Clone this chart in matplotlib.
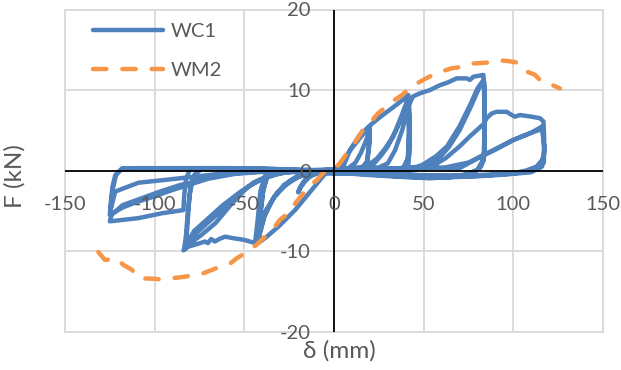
import matplotlib
matplotlib.use('Agg')
import matplotlib.pyplot as plt

plt.rcParams['font.family'] = ['Lato', 'DejaVu Sans']

# ---------------- data ----------------
x_ticks = [-150, -100, -50, 0, 50, 100, 150]
y_ticks = [-20, -10, 0, 10, 20]
x_tick_labels = ['-150', '-100', '-50', '0', '50', '100', '150']
y_tick_labels = ['-20', '-10', '0', '10', '20']

# WC1 hysteresis, by stage (displacement mm, force kN)
wc1_s1_x = [0, 5, 10, 15, 20, 19.6, 18.5, 15, 8, 0, -8, -13, -16, -18.5, -20, -18, -14, -8, 0, 8, 12, 15, 18, 20,
            19.7, 18.5, 14, 5, -5, -12, -15.5, -18, -19.5, -17, -12, -5, 0]
wc1_s1_f = [0, 1.3, 2.8, 4.2, 5.5, 3.5, 1.2, 0.1, -0.2, -0.2, -0.2, -0.6, -1.2, -2.0, -2.7, -1.8, -0.8, -0.2, 0, 0.3, 1.0, 2.2, 3.8, 5.2,
            3.2, 1.0, 0, -0.2, -0.2, -0.4, -1.0, -1.8, -2.4, -1.4, -0.5, 0, 0]

wc1_s2_x = [5, 9, 14, 20, 26, 30.8, 35, 39, 41.4, 42.2, 42.3, 41.5, 38, 30, 15, 0, -5, -12.4, -21.7, -31.2, -38, -42.3,
            -41, -38, -33, -27, -20, -12, 0, 15, 22,
            26, 30, 34, 38, 41.2, 42, 41.8, 39.5, 35, 20, 0, -20, -33, -37.5, -39.5, -41, -42.2,
            -39, -34, -28, -20, -10, 5, 18, 24, 28, 33, 37.5, 41, 41.7, 41.2, 38, 30, 10, -15, -32, -37, -39.5, -41, -42,
            -38, -32, -24, -15, -5, 10, 25, 30]
wc1_s2_f = [0.4, 2.6, 4.3, 5.6, 6.7, 7.5, 8.2, 8.9, 9.4, 7.0, 3.0, 0.8, 0, -0.4, -0.4, -0.3, -0.4, -2.4, -4.9, -7.0, -8.3, -9.0,
            -7.0, -5.0, -3.2, -1.8, -0.8, -0.2, 0, 0.3, 0.8,
            1.8, 3.0, 4.8, 7.0, 8.9, 6.0, 2.0, 0.4, -0.2, -0.3, -0.3, 0.1, 0.1, -0.8, -2.5, -5.0, -8.6,
            -5.8, -3.5, -1.8, -0.6, 0, 0.2, 0.5, 1.5, 2.6, 4.2, 6.4, 8.6, 5.0, 1.5, 0.1, -0.3, -0.3, 0.1, 0.1, -0.6, -2.5, -5.5, -8.2,
            -5.0, -2.8, -1.2, -0.3, 0, 0.2, 0.4, 0.9]

wc1_s3_x = [34, 38, 41.5, 44, 48, 53.5, 59, 63, 68.4, 74, 75.8, 77.7, 83.3, 84, 84, 83.5, 81, 75, 65, 50, 20, 0, -30, -38,
            -41, -42.5, -44, -50, -56, -60.8, -64, -66.4, -68.5, -70.3, -71.9, -76, -81.4, -84,
            -80, -74, -66, -57, -48, -38, -25, 0, 30, 45,
            50, 57, 63, 70, 76, 80, 83.5, 84, 83.8, 82, 77, 65, 40, 0, -60, -74, -78, -80, -81.5, -82.5, -83.5,
            -79, -72, -64, -55, -45, -35, -20, 0, 40, 52,
            58, 64, 70, 76, 81, 83.8, 84, 83.5, 80, 72, 50, 0, -60, -75, -78.5, -80.5, -81.5, -82.5,
            -78, -70, -62, -52, -42, -30, -10, 30, 55]
wc1_s3_f = [2.5, 5.0, 8.0, 9.2, 9.6, 10.0, 10.6, 10.9, 11.45, 11.45, 11.25, 11.66, 11.87, 9.0, 4.0, 1.3, 0.2, -0.5, -0.8, -0.6, -0.3, -0.2, 0.1, -0.3,
            -2.5, -6.0, -9.0, -8.6, -8.4, -8.2, -8.5, -8.8, -8.5, -9.0, -8.8, -9.1, -9.45, -9.9,
            -9.0, -8.0, -6.5, -4.1, -2.0, -0.8, -0.1, 0, 0.1, 0.3,
            0.8, 1.8, 3.0, 5.5, 8.2, 10.2, 11.3, 7.0, 2.0, 0.5, -0.4, -0.7, -0.5, -0.3, 0.2, 0.2, -0.6, -2.0, -5.0, -8.0, -9.6,
            -8.2, -6.8, -5.2, -3.3, -1.5, -0.5, 0, 0.1, 0.2, 0.5,
            1.4, 2.9, 5.0, 7.8, 10.3, 11.0, 6.0, 1.5, 0.1, -0.6, -0.6, -0.3, 0.3, 0.3, -0.8, -3.0, -6.0, -9.2,
            -7.5, -5.9, -4.3, -2.6, -1.2, -0.3, 0, 0.2, 0.6]

wc1_s4_x = [62, 70, 76, 81, 83.5, 85.1, 88, 90.7, 96.3, 99.1, 100.9, 103.7, 110, 114.9, 116.8, 117.2, 117, 116, 113, 107,
            100, 81.4, 68.4, 53.5, 35, 16, 0, -40, -80, -82.5, -83.5, -84, -96, -109, -125,
            -124, -118, -110, -97, -86, -78, -70, -60, -40, 0, 40, 55,
            68.4, 81.4, 99.9, 110, 115.8, 117.3, 117, 114, 108, 100, 85, 68, 53, 35, 15, 0, -60, -110, -119, -122, -123.5, -124.5, -125,
            -118, -110, -100, -90, -80, -70, -55, -30, 20, 60,
            75, 90, 100, 110, 116.5, 117.3, 116, 110, 95, 80, 60, 40, 0, -80, -118, -121.5, -123.5, -124.5,
            -122, -109, -96, -77.5, -60, -30, 0]
wc1_s4_f = [1.5, 3.0, 4.3, 5.3, 5.8, 6.5, 7.1, 7.3, 7.3, 6.9, 6.7, 6.9, 6.7, 6.5, 6.1, 4.0, 2.0, 1.3, 0.5, 0.0,
            -0.33, -0.55, -0.75, -0.95, -0.75, -0.5, -0.2, 0.3, 0.3, -1.0, -3.0, -4.9, -5.3, -5.9, -6.3,
            -5.5, -4.3, -3.65, -2.6, -1.8, -1.4, -0.8, -0.4, -0.1, 0, 0.3, 0.5,
            0.1, 1.7, 3.8, 4.7, 5.45, 3.0, 1.0, 0.2, -0.1, -0.35, -0.6, -0.8, -0.9, -0.7, -0.4, -0.1, 0.3, 0.3, 0.1, -0.6, -2.0, -4.0, -5.5,
            -4.6, -3.9, -3.2, -2.4, -1.7, -1.0, -0.4, 0, 0.2, 0.3,
            1.0, 2.6, 3.8, 4.7, 5.2, 2.5, 0.5, -0.2, -0.5, -0.7, -0.8, -0.6, -0.1, 0.3, 0.3, -0.5, -2.4, -4.8,
            -2.6, -1.5, -1.2, -0.75, -0.3, 0, 0]

# WM2 envelope
wm2_x = [-131.4, -127.7, -121.2, -117.5, -112.8, -108.2, -102.6, -97, -91.5, -84, -78.5, -72.9, -65.4, -58.9, -54.3,
         -48.7, -43.1, -39.4, -33.8, -30.1, -24.5, -21.7, -17.1, -14.3, -9.7, -6, -3, 0, 3.3, 7, 10.8, 16, 20, 24.5,
         28.4, 34, 38, 42.4, 46.8, 53.5, 60, 65.6, 72, 78, 85, 91, 97, 102.6, 107.5, 112, 116, 122, 126]
wm2_f = [-10.1, -11.1, -10.9, -11.7, -12.3, -13.4, -13.4, -13.5, -13.4, -13.2, -13.0, -12.75, -12.1, -11.7, -10.9,
         -10.1, -9.2, -8.4, -7.2, -6.1, -5.1, -4.1, -2.8, -2.0, -1.2, -0.3, 0.0, 0.2, 0.9, 2.1, 3.2, 5.0, 5.9, 7.1,
         7.8, 8.8, 9.4, 10.3, 10.9, 11.7, 12.3, 12.7, 12.9, 13.3, 13.4, 13.7, 13.6, 13.4, 12.3, 11.9, 11.0, 10.6, 10.2]

wc1_x = wc1_s1_x + wc1_s2_x + wc1_s3_x + wc1_s4_x
wc1_f = wc1_s1_f + wc1_s2_f + wc1_s3_f + wc1_s4_f

# ---------------- figure ----------------
W, H = 621, 370
fig = plt.figure(figsize=(W / 100, H / 100), dpi=100)
ax = fig.add_axes([65 / W, 1 - 331.7 / H, 538 / W, (331.7 - 9.5) / H])
ax.set_xlim(-150, 150)
ax.set_ylim(-20, 20)
ax.set_xticks(x_ticks)
ax.set_yticks(y_ticks)
ax.tick_params(length=0, labelbottom=False, labelleft=False)
ax.grid(True, color='#D9D9D9', lw=1.3)
ax.set_axisbelow(True)
for s in ax.spines.values():
    s.set_color('#D9D9D9')
    s.set_linewidth(1.3)

blue = '#4F81BD'
orange = '#F79646'
ax.plot(wc1_x, wc1_f, color=blue, lw=3.2, solid_joinstyle='round', solid_capstyle='round',
        label='WC1', zorder=3)
ax.plot(wm2_x, wm2_f, color=orange, lw=3.2, ls=(0, (3.0, 3.6)), dash_capstyle='round',
        dash_joinstyle='round', label='WM2', zorder=4)
ax.axhline(0, color='black', lw=1.3, zorder=5)
ax.axvline(0, color='black', lw=1.3, zorder=5)

txt = '#595959'
fs = 14.5
fs_title = 17.5
for v, s in zip(x_ticks, x_tick_labels):
    ax.annotate(s, xy=(v, 0), xytext=(0, -39.4 * 0.72), textcoords='offset points',
                ha='center', va='baseline', color=txt, fontsize=fs, zorder=6)
for v, s in zip(y_ticks, y_tick_labels):
    ax.annotate(s, xy=(0, v), xytext=(-23 * 0.72, -7.0 * 0.72), textcoords='offset points',
                ha='right', va='baseline', color=txt, fontsize=fs, zorder=6, annotation_clip=False)

fig.text(15 / W, 1 - 176 / H, 'F (kN)', rotation=90, ha='center', va='center', color=txt, fontsize=fs_title)
fig.text(339 / W, 1 - 351 / H, 'δ (mm)', ha='center', va='center', color=txt, fontsize=fs_title)

leg = ax.legend(loc='upper left', bbox_to_anchor=(93 / W, 1 - 23 / H), bbox_transform=fig.transFigure,
                frameon=False, fontsize=fs, handlelength=3.5, handletextpad=0.35, labelspacing=1.1,
                borderpad=0, borderaxespad=0, labelcolor=txt)

fig.savefig('out.png', dpi=100)
